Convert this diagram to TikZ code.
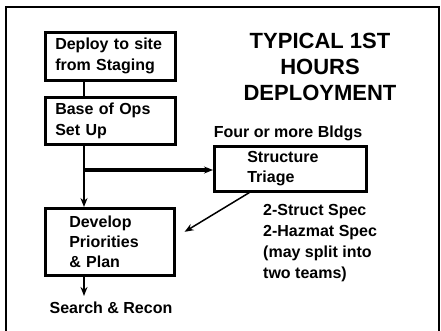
\documentclass[tikz,border=0pt]{standalone}
\usepackage{fontspec}
\setmainfont{Liberation Sans}
\usetikzlibrary{arrows.meta}
\begin{document}
\begin{tikzpicture}[x=1pt,y=-1pt,
  boxst/.style={draw, line width=2.6pt, rectangle, anchor=north west, align=left,
    font=\bfseries\fontsize{16}{21}\selectfont, inner ysep=0pt},
  lbl/.style={font=\bfseries\fontsize{16}{21}\selectfont, align=left, inner sep=0pt},
  ttl/.style={font=\bfseries\fontsize{22}{26}\selectfont, align=center, inner sep=0pt},
  arr/.style={-{Stealth[length=9pt,width=7pt]}}
]
\useasboundingbox (0,0) rectangle (441,330);
\fill[white] (0,0) rectangle (441,330);
\draw[line width=2.5pt] (6,340) -- (6,7) -- (439,7) -- (439,340);

\node[boxst, text width=110pt, inner xsep=10pt, minimum height=48pt] (deploy) at (44,31) {Deploy to site\\from Staging};
\node[boxst, text width=110pt, inner xsep=10pt, minimum height=47pt] (base) at (44,96) {Base of Ops\\Set Up};
\node[boxst, text width=81pt, inner xsep=24pt, minimum height=67pt, font=\bfseries\fontsize{16}{20}\selectfont] (dev) at (44,207) {Develop\\Priorities\\\& Plan};
\node[boxst, text width=86pt, inner xsep=33pt, minimum height=45pt, font=\bfseries\fontsize{16}{20}\selectfont] (struct) at (213,145) {Structure\\Triage};

\node[ttl] (title) at (320,67) {TYPICAL 1ST\\HOURS\\DEPLOYMENT};
\node[lbl] (four) at (288,133) {Four or more Bldgs};
\node[lbl, anchor=north west] (spec) at (263,204) {2-Struct Spec\\2-Hazmat Spec\\(may split into\\two teams)};
\node[lbl] (search) at (111,308) {Search \& Recon};

\coordinate (j) at (84,170);
\draw[line width=2pt] (deploy.south -| j) -- (base.north -| j);
\draw[line width=2pt] (base.south -| j) -- (j);
\draw[arr, line width=2pt] (j) -- (dev.north -| j);
\draw[arr, line width=3.5pt] (j) -- (struct.west |- j);
\draw[arr, line width=1.5pt] ([xshift=-41pt]struct.south) -- ([shift={(9,-10)}]dev.east);
\draw[arr, line width=2pt, shorten >=6pt] (dev.south -| j) -- (search.north -| j);
\end{tikzpicture}
\end{document}
